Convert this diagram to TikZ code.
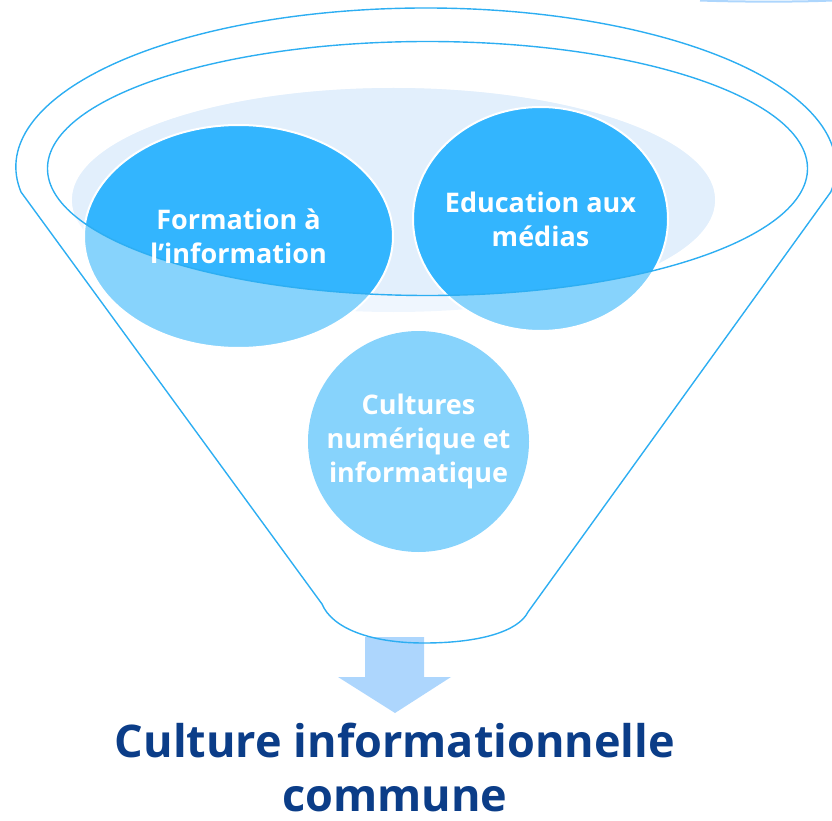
\documentclass[tikz,border=0pt]{standalone}
\usepackage{fontspec}
\setmainfont{Open Sans}
\usetikzlibrary{shapes.geometric}
\definecolor{rim}{HTML}{2DAEF2}
\definecolor{darkc}{HTML}{33B5FE}
\definecolor{lightc}{HTML}{87D3FC}
\definecolor{bgin}{HTML}{E2EFFC}
\definecolor{bgout}{HTML}{EFF6FE}
\definecolor{arrowc}{HTML}{ADD6FD}
\definecolor{titlec}{HTML}{0B3D88}
\tikzset{
  rimline/.style={draw=rim, line width=1.4pt},
  bubble/.style={ellipse, draw=white, line width=2pt, inner sep=0pt},
  bubbletext/.style={text=white, align=center, inner sep=0pt,
     font=\bfseries\fontsize{27}{34}\selectfont},
  titletext/.style={text=titlec, align=center, inner sep=0pt, text depth=0pt,
     font=\bfseries\fontsize{45}{54}\selectfont}
}
\begin{document}
\begin{tikzpicture}[x=1pt,y=-1pt]
\useasboundingbox (0,0) rectangle (832,821);
% arrow
\fill[arrowc] (365,637) -- (424,637) -- (424,677) -- (451,677) -- (395,713) -- (338,677) -- (365,677) -- cycle;
% background ellipse
\fill[bgout] (393.5,200) ellipse [x radius=321.5, y radius=112];
\begin{scope}
  \clip (427.5,168.5) ellipse [x radius=380, y radius=127];
  \fill[bgin] (393.5,200) ellipse [x radius=321.5, y radius=112];
\end{scope}
% bubble fills
\fill[lightc] (238.5,236.5) ellipse [x radius=154.5, y radius=111.5];
\fill[lightc] (540.5,219) ellipse [x radius=127.5, y radius=112];
\fill[lightc] (418.5,441.5) ellipse [x radius=110.5, y radius=110.5];
\begin{scope}
  \clip (427.5,168.5) ellipse [x radius=380, y radius=127];
  \fill[darkc] (238.5,236.5) ellipse [x radius=154.5, y radius=111.5];
  \fill[darkc] (540.5,219) ellipse [x radius=127.5, y radius=112];
\end{scope}
% bubbles (borders)
\node[bubble, minimum width=309pt, minimum height=223pt] (formation) at (238.5,236.5) {};
\node[bubble, minimum width=255pt, minimum height=224pt] (education) at (540.5,219) {};
\node[bubble, draw=none, minimum width=221pt, minimum height=221pt] (cultures) at (418.5,441.5) {};
% funnel outlines
\draw[rimline] (427.5,168.5) ellipse [x radius=380, y radius=127];
\draw[rimline] (21,192) arc[start angle=170.95, end angle=369.05, x radius=410, y radius=159]
  -- (528,612) .. controls (518,632) and (478,643) .. (424,643)
  .. controls (370,643) and (332,628) .. (322,604) -- cycle;
% bubble texts
\node[bubbletext] (formationtxt) at (formation.center) {Formation à\\l’information};
\node[bubbletext] (educationtxt) at (education.center) {Education aux\\médias};
\node[bubbletext] (culturestxt) at (cultures.center) {Cultures\\numérique et\\informatique};
% top-right fragment
\draw[arrowc, line width=2pt] (700,0.5) .. controls (740,2) and (800,2) .. (832,0.5);
% title
\node[titletext, anchor=south] (title) at (395,812) {Culture informationnelle\\commune};
\end{tikzpicture}
\end{document}
